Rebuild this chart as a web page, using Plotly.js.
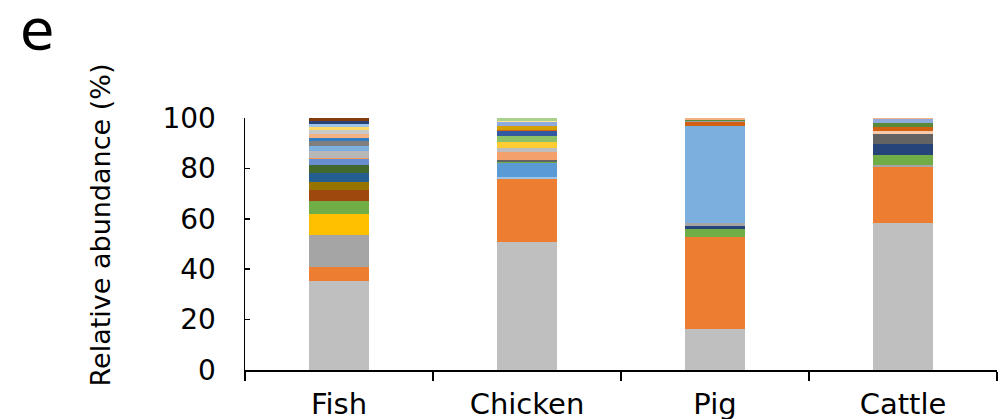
<!DOCTYPE html>
<html>
<head>
<meta charset="utf-8">
<script src="https://cdn.plot.ly/plotly-3.0.1.min.js"></script>
<style>html,body{margin:0;padding:0;background:#fff;}#chart{width:1008px;height:419px;}</style>
</head>
<body>
<div id="chart"></div>
<script>
const categories = ['Fish', 'Chicken', 'Pig', 'Cattle'];
const yTicks = [0, 20, 40, 60, 80, 100];

// Segment values (%) from bottom to top for each bar
const fishValues = [35.3, 5.7, 12.7, 8.4, 4.9, 4.5, 3.3, 3.2, 3.2, 2.6, 0.5, 2.5, 2.0, 2.1, 1.3, 1.6, 1.6, 1.2, 1.1, 1.2, 1.1];
const chickenValues = [50.8, 25.0, 0.6, 5.8, 0.5, 0.6, 3.2, 1.6, 2.3, 2.4, 1.9, 0.5, 1.5, 1.7, 0.3, 1.3];
const pigValues = [16.4, 36.3, 3.3, 1.3, 1.1, 38.3, 1.6, 0.5, 0.4, 0.8];
const cattleValues = [58.4, 22.3, 0.5, 4.1, 4.5, 4.0, 0.9, 1.6, 1.6, 1.6, 0.5];

// Segment colours
const fishColors = ['#BFBFBF', '#ED7D31', '#A5A5A5', '#FFC000', '#70AD47', '#9E480E', '#997300', '#255E91', '#43682B', '#698ED0', '#F1975A', '#B7B7B7', '#7CAFDD', '#7F7F7F', '#327DC2', '#F4B183', '#C9C9C9', '#FFD966', '#9DC3E6', '#264478', '#843C0C'];
const chickenColors = ['#BFBFBF', '#ED7D31', '#9DC3E6', '#5B9BD5', '#70AD47', '#636363', '#F4A06A', '#BDBDBD', '#FFCD33', '#8CC168', '#335AA1', '#D26012', '#D5A000', '#8FAADC', '#FFE699', '#A9D18E'];
const pigColors = ['#BFBFBF', '#ED7D31', '#70AD47', '#264478', '#A5A5A5', '#7CAFDD', '#D26012', '#9E9E9E', '#5A8A39', '#F4B183'];
const cattleColors = ['#BFBFBF', '#ED7D31', '#A5A5A5', '#70AD47', '#264478', '#636363', '#F8CBAD', '#D26012', '#5A8A39', '#8FAADC', '#F4B183'];

const allValues = [fishValues, chickenValues, pigValues, cattleValues];
const allColors = [fishColors, chickenColors, pigColors, cattleColors];
const nLayers = Math.max(...allValues.map(a => a.length));

const traces = [];
for (let i = 0; i < nLayers; i++) {
  traces.push({
    type: 'bar',
    x: categories,
    y: allValues.map(a => (i < a.length ? a[i] : 0)),
    marker: {
      color: allColors.map(c => (i < c.length ? c[i] : 'rgba(0,0,0,0)')),
      line: {width: 0}
    },
    hoverinfo: 'x+y',
    showlegend: false
  });
}

const font = 'DejaVu Sans, Arial, sans-serif';
const layout = {
  width: 1008,
  height: 419,
  barmode: 'stack',
  bargap: 0.686,
  paper_bgcolor: '#fff',
  plot_bgcolor: '#fff',
  margin: {l: 245, r: 11, t: 118, b: 49, pad: 0},
  font: {family: font, color: '#000'},
  xaxis: {
    type: 'category',
    range: [-0.5, 3.5],
    tickson: 'boundaries',
    ticks: 'outside',
    ticklen: 9,
    tickwidth: 1.5,
    tickcolor: '#000',
    showline: true,
    linecolor: '#000',
    linewidth: 1.5,
    showgrid: false,
    zeroline: false,
    ticklabelstandoff: 8,
    tickfont: {size: 29, family: font, color: '#000'}
  },
  yaxis: {
    range: [0, 100],
    tickvals: yTicks,
    ticktext: yTicks.map(String),
    ticks: 'inside',
    ticklen: 5,
    tickwidth: 1.5,
    tickcolor: '#000',
    showline: true,
    linecolor: '#000',
    linewidth: 1.5,
    showgrid: false,
    zeroline: false,
    ticklabelstandoff: 22,
    tickfont: {size: 28, family: font, color: '#000'}
  },
  annotations: [
    {
      text: 'Relative abundance (%)',
      xref: 'paper', yref: 'paper',
      x: (100 - 245) / 752, y: (370.5 - 226) / 252,
      xanchor: 'center', yanchor: 'middle',
      textangle: -90,
      showarrow: false,
      font: {size: 27, family: font, color: '#000'}
    },
    {
      text: 'e',
      xref: 'paper', yref: 'paper',
      x: (37 - 245) / 752, y: (370.5 - 30) / 252,
      xanchor: 'center', yanchor: 'middle',
      showarrow: false,
      font: {size: 56, family: font, color: '#000'}
    }
  ]
};

Plotly.newPlot('chart', traces, layout, {staticPlot: true, displayModeBar: false});
</script>
</body>
</html>
